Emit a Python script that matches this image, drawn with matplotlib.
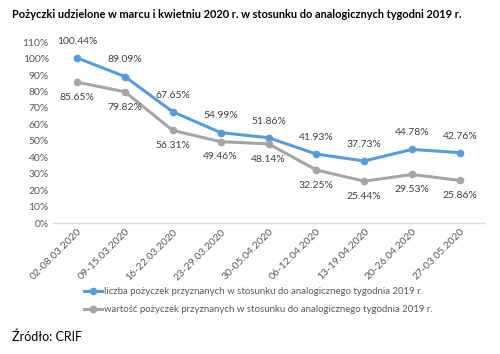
import matplotlib
matplotlib.use("Agg")
import matplotlib.pyplot as plt

plt.rcParams['font.family'] = ['Lato', 'DejaVu Sans']

categories = ["02-08.03.2020", "09-15.03.2020", "16-22.03.2020", "23-29.03.2020",
              "30-05.04.2020", "06-12.04.2020", "13-19.04.2020", "20-26.04.2020",
              "27-03.05.2020"]
liczba = [100.44, 89.09, 67.65, 54.99, 51.86, 41.93, 37.73, 44.78, 42.76]
wartosc = [85.65, 79.82, 56.31, 49.46, 48.14, 32.25, 25.44, 29.53, 25.86]
yticks = list(range(0, 111, 10))

title = "Pożyczki udzielone w marcu i kwietniu 2020 r. w stosunku do analogicznych tygodni 2019 r."
leg1 = "liczba pożyczek przyznanych w stosunku do analogicznego tygodnia 2019 r."
leg2 = "wartość pożyczek przyznanych w stosunku do analogicznego tygodnia 2019 r."
source = "Źródło: CRIF"

blue = "#5B9BD5"
gray = "#A5A5A5"
txt = "#404040"
tick_c = "#595959"

fig = plt.figure(figsize=(5.0, 3.54), dpi=100)
ax = fig.add_axes([0.106, 0.370, 0.862, 0.511])

x = list(range(len(categories)))
l1, = ax.plot(x, liczba, color=blue, lw=2.2, marker='o', ms=4.5)
l2, = ax.plot(x, wartosc, color=gray, lw=2.2, marker='o', ms=4.5)

for xi, v in zip(x, liczba):
    ax.annotate(f"{v:.2f}%", (xi, v), xytext=(0, 12), textcoords='offset points',
                ha='center', va='center', fontsize=7.5, color=txt)
for xi, v in zip(x, wartosc):
    ax.annotate(f"{v:.2f}%", (xi, v), xytext=(0, -11), textcoords='offset points',
                ha='center', va='center', fontsize=7.5, color=txt)

ax.set_xlim(-0.5, len(categories) - 0.5)
ax.set_ylim(0, 110)
ax.set_yticks(yticks)
ax.set_yticklabels([f"{t}%" for t in yticks], fontsize=7.5, color=tick_c)
ax.set_xticks(x)
ax.set_xticklabels(categories, rotation=45, ha='right', rotation_mode='anchor',
                   fontsize=7.5, color=tick_c)
ax.tick_params(axis='both', length=0, pad=3)
for s in ['top', 'right', 'left']:
    ax.spines[s].set_visible(False)
ax.spines['bottom'].set_color('#D9D9D9')
ax.spines['bottom'].set_linewidth(1.0)

fig.legend([l1, l2], [leg1, leg2], loc='center', bbox_to_anchor=(0.516, 0.151),
           frameon=False, fontsize=6.9, handlelength=1.9, handletextpad=0.2,
           labelspacing=0.95, labelcolor=tick_c)

fig.text(0.024, 0.960, title, fontsize=7.9, fontweight='bold', color='#000000',
         ha='left', va='center')
fig.text(0.024, 0.048, source, fontsize=9, color='#000000', ha='left', va='center')

fig.savefig("out.png", dpi=100)
